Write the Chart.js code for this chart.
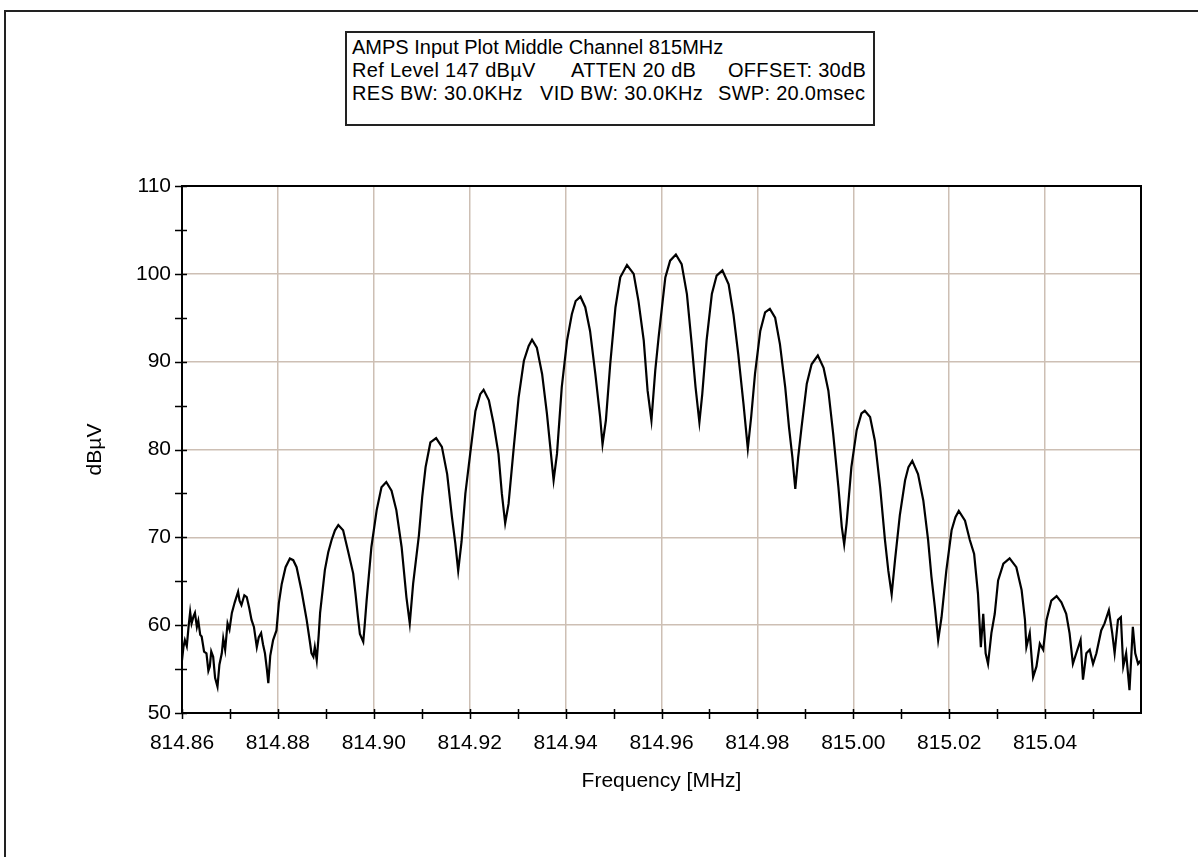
<!DOCTYPE html>
<html>
<head>
<meta charset="utf-8">
<title>AMPS Input Plot Middle Channel 815MHz</title>
<script src="https://cdn.jsdelivr.net/npm/chart.js@4.4.0/dist/chart.umd.min.js"></script>
<style>
  html, body { margin: 0; padding: 0; background: #fff; overflow: hidden; }
  body { width: 1198px; height: 857px; position: relative; font-family: "Liberation Sans", Arial, sans-serif; }
  .frame { position: absolute; left: 4px; top: 10px; width: 1400px; height: 1000px; border: 2px solid #222; box-sizing: border-box; }
  .wrap { position: absolute; left: 0; top: 0; width: 1198px; height: 857px; }
  .info { position: absolute; left: 345px; top: 31px; width: 530px; height: 95px; box-sizing: border-box;
          border: 2px solid #222; background: #fff; font-size: 20px; color: #000; }
  .info span { position: absolute; white-space: pre; line-height: 23px; letter-spacing: 0.3px; }
</style>
</head>
<body>
<div class="frame"></div>
<div class="wrap"><canvas id="spectrum" width="1198" height="857"></canvas></div>
<div class="info">
  <span style="left:5px; top:3px; letter-spacing:0">AMPS Input Plot Middle Channel 815MHz</span>
  <span style="left:5px; top:26px">Ref Level 147 dBµV</span>
  <span style="left:224px; top:26px">ATTEN 20 dB</span>
  <span style="left:381px; top:26px">OFFSET: 30dB</span>
  <span style="left:5px; top:49px">RES BW: 30.0KHz</span>
  <span style="left:193px; top:49px">VID BW: 30.0KHz</span>
  <span style="left:371px; top:49px">SWP: 20.0msec</span>
</div>

<script>
// sweep (MHz / dBµV)
const freqs = [
  814.8600, 814.8603, 814.8606, 814.8610, 814.8614, 814.8617, 814.8620, 814.8624, 814.8627, 814.8631,
  814.8634, 814.8638, 814.8641, 814.8646, 814.8651, 814.8655, 814.8658, 814.8661, 814.8665, 814.8669,
  814.8674, 814.8678, 814.8683, 814.8686, 814.8690, 814.8695, 814.8699, 814.8704, 814.8710, 814.8717,
  814.8720, 814.8724, 814.8730, 814.8735, 814.8740, 814.8745, 814.8750, 814.8756, 814.8760, 814.8765,
  814.8769, 814.8773, 814.8777, 814.8780, 814.8784, 814.8790, 814.8797, 814.8802, 814.8808, 814.8816,
  814.8825, 814.8832, 814.8839, 814.8849, 814.8860, 814.8867, 814.8870, 814.8874, 814.8877, 814.8881,
  814.8885, 814.8888, 814.8898, 814.8905, 814.8912, 814.8919, 814.8926, 814.8936, 814.8946, 814.8957,
  814.8962, 814.8967, 814.8971, 814.8978, 814.8981, 814.8985, 814.8995, 814.9006, 814.9016, 814.9026,
  814.9037, 814.9047, 814.9058, 814.9068, 814.9075, 814.9082, 814.9094, 814.9101, 814.9108, 814.9118,
  814.9130, 814.9142, 814.9153, 814.9163, 814.9170, 814.9176, 814.9183, 814.9191, 814.9201, 814.9212,
  814.9222, 814.9229, 814.9240, 814.9250, 814.9260, 814.9267, 814.9274, 814.9281, 814.9292, 814.9302,
  814.9313, 814.9323, 814.9330, 814.9340, 814.9351, 814.9361, 814.9368, 814.9375, 814.9382, 814.9392,
  814.9403, 814.9413, 814.9421, 814.9431, 814.9441, 814.9451, 814.9462, 814.9472, 814.9477, 814.9484,
  814.9493, 814.9504, 814.9514, 814.9528, 814.9542, 814.9552, 814.9563, 814.9571, 814.9579, 814.9587,
  814.9594, 814.9601, 814.9608, 814.9618, 814.9630, 814.9642, 814.9653, 814.9663, 814.9671, 814.9679,
  814.9685, 814.9694, 814.9705, 814.9715, 814.9727, 814.9740, 814.9750, 814.9760, 814.9771, 814.9780,
  814.9787, 814.9795, 814.9806, 814.9816, 814.9826, 814.9837, 814.9847, 814.9858, 814.9866, 814.9873,
  814.9879, 814.9885, 814.9892, 814.9903, 814.9913, 814.9926, 814.9938, 814.9948, 814.9958, 814.9969,
  814.9976, 814.9981, 814.9986, 814.9996, 815.0007, 815.0017, 815.0024, 815.0035, 815.0045, 815.0056,
  815.0066, 815.0073, 815.0080, 815.0087, 815.0097, 815.0108, 815.0115, 815.0123, 815.0135, 815.0146,
  815.0156, 815.0163, 815.0170, 815.0177, 815.0184, 815.0194, 815.0205, 815.0213, 815.0220, 815.0233,
  815.0243, 815.0252, 815.0260, 815.0266, 815.0271, 815.0276, 815.0281, 815.0288, 815.0295, 815.0302,
  815.0313, 815.0326, 815.0340, 815.0351, 815.0358, 815.0361, 815.0368, 815.0375, 815.0382, 815.0389,
  815.0396, 815.0403, 815.0413, 815.0424, 815.0434, 815.0444, 815.0451, 815.0458, 815.0465, 815.0474,
  815.0479, 815.0486, 815.0493, 815.0500, 815.0507, 815.0517, 815.0524, 815.0533, 815.0540, 815.0545,
  815.0552, 815.0558, 815.0563, 815.0569, 815.0576, 815.0583, 815.0588, 815.0594, 815.0600
];
const levels = [
  56.0, 57.5, 58.3, 57.6, 60.0, 61.5, 60.2, 61.0, 61.4, 59.8,
  60.5, 58.9, 58.7, 57.0, 56.8, 54.8, 55.3, 57.0, 56.4, 54.0,
  53.0, 55.5, 56.8, 58.5, 57.2, 60.2, 59.5, 61.4, 62.6, 63.8,
  62.8, 62.3, 63.4, 63.2, 62.0, 60.6, 59.8, 57.5, 58.6, 59.1,
  57.8, 56.8, 55.0, 53.4, 56.5, 58.3, 59.4, 62.5, 64.7, 66.6,
  67.6, 67.4, 66.6, 64.0, 60.6, 58.0, 56.8, 56.4, 57.5, 56.0,
  58.8, 61.4, 66.3, 68.3, 69.7, 70.8, 71.4, 70.8, 68.5, 65.9,
  63.5, 60.9, 59.0, 58.1, 60.0, 62.8, 68.9, 73.1, 75.7, 76.3,
  75.3, 73.1, 68.9, 63.2, 60.2, 64.7, 70.2, 74.6, 78.0, 80.8,
  81.3, 80.3, 77.2, 72.3, 69.3, 66.2, 69.5, 75.0, 79.5, 84.4,
  86.3, 86.8, 85.6, 82.9, 79.5, 75.0, 71.6, 73.8, 80.3, 85.9,
  90.1, 91.8, 92.5, 91.6, 88.6, 84.1, 80.3, 76.5, 79.5, 87.1,
  92.4, 95.4, 96.9, 97.4, 96.2, 93.5, 88.6, 83.7, 80.6, 83.3,
  89.7, 96.2, 99.6, 101.0, 100.0, 96.9, 92.4, 86.7, 83.3, 89.0,
  92.8, 96.2, 99.6, 101.5, 102.2, 101.1, 97.7, 92.0, 87.1, 83.1,
  86.3, 92.4, 97.7, 99.8, 100.4, 98.8, 95.4, 90.9, 85.2, 80.1,
  83.7, 88.6, 93.5, 95.6, 96.0, 95.0, 92.0, 87.1, 82.5, 79.1,
  75.5, 79.1, 82.5, 87.5, 89.7, 90.7, 89.3, 86.7, 81.8, 75.7,
  71.2, 69.2, 71.6, 78.0, 82.2, 84.1, 84.4, 83.7, 81.0, 75.7,
  69.7, 66.2, 63.5, 67.4, 72.5, 76.5, 78.0, 78.7, 77.2, 74.2,
  69.7, 65.5, 62.1, 58.3, 60.9, 66.2, 70.8, 72.3, 73.0, 71.9,
  69.7, 68.1, 63.6, 57.5, 61.3, 56.8, 55.6, 59.1, 61.3, 65.1,
  67.0, 67.6, 66.6, 64.0, 60.6, 57.5, 59.1, 54.1, 55.3, 57.9,
  57.2, 60.6, 62.8, 63.3, 62.6, 61.3, 59.1, 55.6, 56.8, 58.3,
  53.8, 56.8, 57.2, 55.6, 56.8, 59.4, 60.2, 61.7, 59.1, 56.8,
  60.6, 60.9, 55.3, 56.8, 52.6, 59.8, 56.8, 55.6, 56.0
];

const xMin = 814.86, xMax = 815.06, xStep = 0.01;
const yMin = 50, yMax = 110, yStep = 5;

const gridTan = '#cdbfb4';
const uiFont = { family: '"Liberation Sans", Arial, sans-serif', size: 21 };

const isMajorX = v => Math.round(v * 100) % 2 === 0;
const isMajorY = v => Math.round(v) % 10 === 0;

// ticks that cross the axis + the closed plot frame
const frameTicks = {
  id: 'frameTicks',
  afterDatasetsDraw(chart) {
    const { ctx, chartArea: a, scales } = chart;
    ctx.save();
    ctx.strokeStyle = '#000';
    ctx.lineWidth = 2;
    ctx.strokeRect(a.left, a.top, a.right - a.left, a.bottom - a.top);
    ctx.lineWidth = 1.5;
    ctx.beginPath();
    scales.x.ticks.forEach(t => {
      if (t.value >= xMax - 1e-6) return;
      const px = Math.round(scales.x.getPixelForValue(t.value)) + 0.5;
      ctx.moveTo(px, a.bottom - 4);
      ctx.lineTo(px, a.bottom + 6);
    });
    scales.y.ticks.forEach(t => {
      const py = Math.round(scales.y.getPixelForValue(t.value)) + 0.5;
      ctx.moveTo(a.left - 7, py);
      ctx.lineTo(a.left + 5, py);
    });
    ctx.stroke();
    ctx.restore();
  }
};

new Chart(document.getElementById('spectrum'), {
  type: 'line',
  data: {
    datasets: [{
      data: freqs.map((f, i) => ({ x: f, y: levels[i] })),
      borderColor: '#000',
      borderWidth: 2.2,
      pointRadius: 0,
      tension: 0,
      fill: false
    }]
  },
  options: {
    responsive: false,
    animation: false,
    layout: { padding: { left: 83, top: 186, right: 57, bottom: 63 } },
    plugins: { legend: { display: false }, tooltip: { enabled: false } },
    scales: {
      x: {
        type: 'linear',
        min: xMin,
        max: xMax,
        afterFit: s => { s.height = 81; },
        ticks: {
          stepSize: xStep,
          maxTicksLimit: 40,
          autoSkip: false,
          maxRotation: 0,
          padding: 18,
          color: '#000',
          font: uiFont,
          callback: v => (isMajorX(v) && v < xMax - 0.005) ? v.toFixed(2) : ''
        },
        grid: {
          drawTicks: false,
          lineWidth: 1.5,
          color: c => (c.tick && isMajorX(c.tick.value)) ? gridTan : 'rgba(0,0,0,0)'
        },
        border: { display: true, color: '#000', width: 2 },
        title: { display: true, text: 'Frequency [MHz]', color: '#000', font: uiFont, padding: 0 }
      },
      y: {
        min: yMin,
        max: yMax,
        afterFit: s => { s.width = 99; },
        ticks: {
          stepSize: yStep,
          maxTicksLimit: 40,
          autoSkip: false,
          padding: 11,
          color: '#000',
          font: uiFont,
          callback: v => isMajorY(v) ? String(v) : ''
        },
        grid: {
          drawTicks: false,
          lineWidth: 1.5,
          color: c => (c.tick && isMajorY(c.tick.value)) ? gridTan : 'rgba(0,0,0,0)'
        },
        border: { display: true, color: '#000', width: 2 },
        title: { display: true, text: 'dBµV', color: '#000', font: uiFont, padding: 0 }
      }
    }
  },
  plugins: [frameTicks]
});
</script>
</body>
</html>
